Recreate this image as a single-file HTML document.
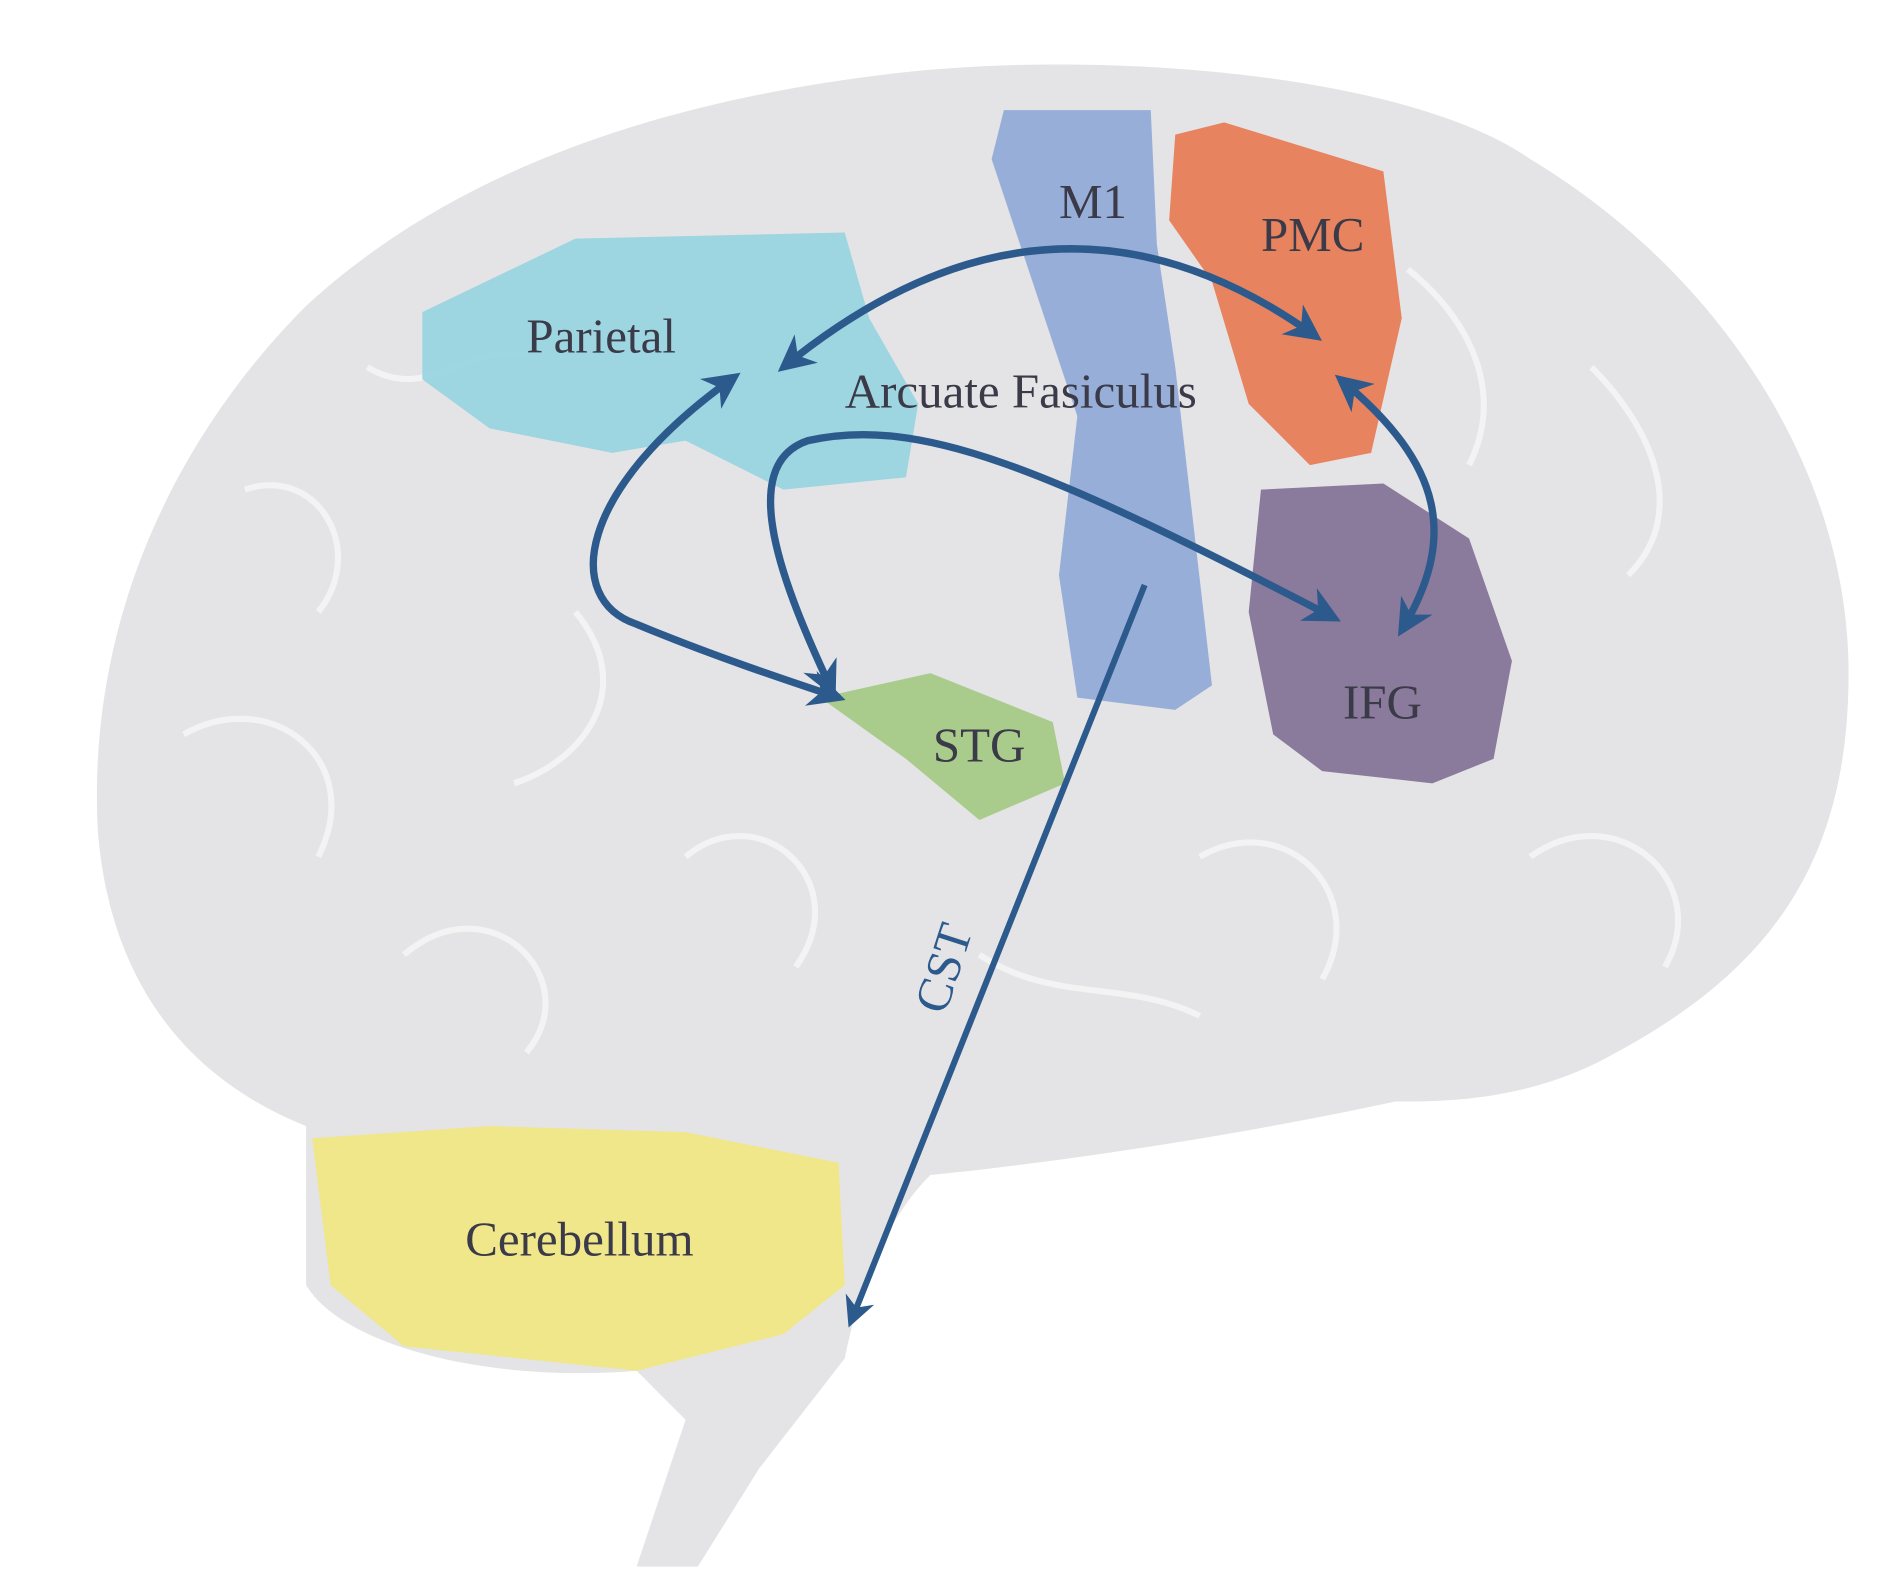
<!DOCTYPE html>
<html><head><meta charset="utf-8"><style>html,body{margin:0;padding:0;background:#fff}svg{display:block}</style></head>
<body>
<svg width="1900" height="1596" viewBox="0 0 1552 1304" preserveAspectRatio="none" xmlns="http://www.w3.org/2000/svg">
<defs>
<marker id="a" viewBox="0 0 10 10" refX="8" refY="5" markerWidth="5" markerHeight="5" orient="auto-start-reverse"><path d="M0,0 L10,5 L0,10 L3,5 Z" fill="#2d5a8c"/></marker>
</defs>
<rect width="1552" height="1304" fill="#fff"/>
<path d="M730 60 C900 40 1150 60 1250 130 C1400 220 1510 380 1510 550 C1510 700 1450 790 1320 860 C1250 900 1180 900 1140 900 C1000 930 860 950 760 960 C720 1000 700 1060 690 1110 L620 1200 L570 1280 L520 1280 L560 1160 L520 1120 C400 1130 280 1100 250 1050 L250 920 C150 880 90 800 80 680 C70 500 150 350 250 250 C380 130 560 80 730 60 Z" fill="#e4e4e6"/>
<g fill="none" stroke="#f6f6f7" stroke-width="5" opacity="0.8">
<path d="M200 400 C260 380 300 450 260 500 M150 600 C220 560 300 620 260 700 M330 780 C400 720 480 800 430 860 M560 700 C620 650 700 720 650 790 M980 700 C1050 660 1120 730 1080 800 M1250 700 C1320 650 1400 720 1360 790 M1300 300 C1350 350 1380 420 1330 470 M470 500 C520 560 480 620 420 640 M800 780 C860 820 920 800 980 830 M1150 220 C1200 260 1230 320 1200 380 M300 300 C350 330 380 280 430 290"/>
</g>
<path d="M345 255 L470 195 L690 190 L710 260 L750 330 L740 390 L640 400 L560 360 L500 370 L400 350 L345 310 Z" fill="#95d3df" opacity="0.9"/>
<path d="M820 90 L940 90 L945 200 L960 300 L990 560 L960 580 L880 570 L865 470 L880 340 L840 220 L810 130 Z" fill="#8ea7d6" opacity="0.9"/>
<path d="M960 110 L1000 100 L1130 140 L1145 260 L1120 370 L1070 380 L1020 330 L990 230 L955 180 Z" fill="#e8835f"/>
<path d="M1030 400 L1130 395 L1200 440 L1235 540 L1220 620 L1170 640 L1080 630 L1040 600 L1020 500 Z" fill="#8a7a9c"/>
<path d="M670 570 L760 550 L860 590 L870 640 L800 670 L740 620 Z" fill="#a9cc8c"/>
<path d="M255 930 L400 920 L560 925 L685 950 L690 1050 L640 1090 L520 1120 L330 1100 L270 1050 Z" fill="#f0e68a"/>
<g fill="none" stroke="#2d5a8c" stroke-width="6" marker-start="url(#a)" marker-end="url(#a)">
<path d="M640 300 Q860 120 1075 275"/>
<path d="M600 308 C470 400 460 490 520 510 C580 535 640 555 685 570"/>
<path d="M680 565 C640 480 600 380 660 360 C750 340 850 380 1090 505"/>
<path d="M1095 310 C1180 380 1190 440 1145 515"/>
</g>
<path d="M935 478 L695 1080" stroke="#2d5a8c" stroke-width="5" fill="none" marker-end="url(#a)"/>
<g font-family="Liberation Serif, serif" font-size="40" fill="#3a3a48">
<text x="430" y="288">Parietal</text>
<text x="865" y="178">M1</text>
<text x="1030" y="205">PMC</text>
<text x="690" y="333">Arcuate Fasiculus</text>
<text x="1097" y="587">IFG</text>
<text x="762" y="622">STG</text>
<text x="380" y="1026">Cerebellum</text>
<text transform="translate(772,830) rotate(-72)" fill="#2d5a8c">CST</text>
</g>
</svg>
</body></html>
